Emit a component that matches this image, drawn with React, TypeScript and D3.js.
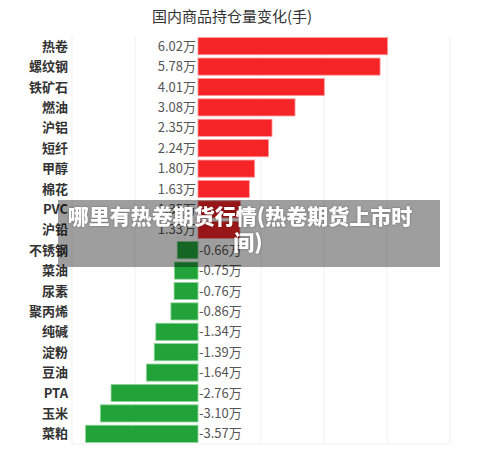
import React from "react";
import * as d3 from "d3";

const categories = ["热卷", "螺纹钢", "铁矿石", "燃油", "沪铝", "短纤", "甲醇", "棉花", "PVC", "沪铅", "不锈钢", "菜油", "尿素", "聚丙烯", "纯碱", "淀粉", "豆油", "PTA", "玉米", "菜粕"];
const values = [6.02, 5.78, 4.01, 3.08, 2.35, 2.24, 1.8, 1.63, 1.35, 1.33, -0.66, -0.75, -0.76, -0.86, -1.34, -1.39, -1.64, -2.76, -3.1, -3.57];
const xTicks = [-4, -2, 0, 2, 4, 6, 8];
const title = "国内商品持仓量变化(手)";
const overlayLines = ["哪里有热卷期货行情(热卷期货上市时", "间)"];

const W = 500, H = 467;
const M = { left: 72, right: 50, top: 36, bottom: 23 };
const FONT = "'Noto Sans CJK SC', 'Noto Sans', sans-serif";

export default function App() {
  const x = d3.scaleLinear().domain([-4, 8]).range([M.left, W - M.right]);
  const y = d3.scaleBand<string>().domain(categories).range([M.top, H - M.bottom]).paddingInner(0.16).paddingOuter(0.08);
  const x0 = x(0);
  return (
    <svg width={W} height={H} style={{ position: "absolute", left: 0, top: 0, background: "#fff" }} fontFamily={FONT}>
      <text x={232} y={22} textAnchor="middle" fontSize={15} fill="#333">{title}</text>
      {xTicks.map((t) => (
        <line key={t} x1={x(t)} x2={x(t)} y1={M.top} y2={H - M.bottom} stroke="#f0f0f0" strokeWidth={1} />
      ))}
      <line x1={M.left} x2={W - M.right} y1={H - M.bottom} y2={H - M.bottom} stroke="#f0f0f0" />
      {categories.map((c, i) => {
        const v = values[i];
        const yy = y(c)!;
        const bw = y.bandwidth();
        const cy = yy + bw / 2;
        const pos = v >= 0;
        return (
          <g key={c}>
            <rect x={pos ? x0 : x(v)} y={yy} width={Math.abs(x(v) - x0)} height={bw}
              fill={pos ? "#f52426" : "#22a33a"} stroke={pos ? "#ff9a9c" : "#8fd49a"} strokeWidth={0.8} />
            <text x={68} y={cy} dy="0.35em" textAnchor="end" fontSize={13} fontWeight="bold" fill="#333">{c}</text>
            <text x={pos ? x0 - 2 : x0 + 1} y={cy} dy="0.35em" textAnchor={pos ? "end" : "start"} fontSize={13} fill="#555">
              {v.toFixed(2)}万
            </text>
          </g>
        );
      })}
      <rect x={58} y={200} width={382} height={67} fill="#000" fillOpacity={0.38} />
      <g fontSize={21} fontWeight={900} fill="#fff" style={{ filter: "drop-shadow(0 0 1px rgba(0,0,0,0.3))" }}>
        <text x={240} y={217} dy="0.35em" textAnchor="middle">{overlayLines[0]}</text>
        <text x={248} y={243} dy="0.35em" textAnchor="middle">{overlayLines[1]}</text>
      </g>
    </svg>
  );
}
